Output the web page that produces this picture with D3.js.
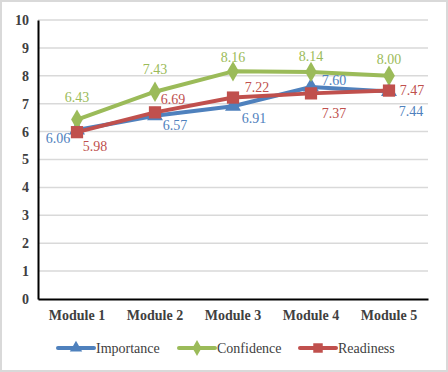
<!DOCTYPE html>
<html><head><meta charset="utf-8">
<script src="https://cdn.jsdelivr.net/npm/d3@7"></script>
<style>
html,body{margin:0;padding:0;background:#fff;}
svg{display:block;font-family:"Liberation Serif","Times New Roman",serif;}
</style></head>
<body>
<svg id="chart" width="448" height="372"></svg>
<script>
const categories = ["Module 1","Module 2","Module 3","Module 4","Module 5"];
const importance = [6.06,6.57,6.91,7.60,7.44];
const confidence = [6.43,7.43,8.16,8.14,8.00];
const readiness  = [5.98,6.69,7.22,7.37,7.47];
const yTicks = [0,1,2,3,4,5,6,7,8,9,10];
const seriesNames = ["Importance","Confidence","Readiness"];

// label offsets (layout only)
const labelOffsets = {
  Importance: [[-19,9],[20,10],[21,12],[23,-6],[22,20]],
  Confidence: [[0,-22],[0,-22],[0,-14],[0,-15],[0,-16]],
  Readiness:  [[18,14],[18,-13],[24,-10],[23,20],[23,0]]
};
const colors = {Importance:"#4f81bd", Confidence:"#9bbb59", Readiness:"#c0504d"};
const shapes = {Importance:d3.symbolTriangle, Confidence:d3.symbolDiamond, Readiness:d3.symbolSquare};
const sizes = {Importance:110, Confidence:120, Readiness:150};

const series = [
  {name:"Importance", values:importance},
  {name:"Confidence", values:confidence},
  {name:"Readiness", values:readiness}
];

const svg = d3.select("#chart");
// outer border
svg.append("rect").attr("x",1).attr("y",1).attr("width",446).attr("height",370)
  .attr("fill","#fff").attr("stroke","#d9d9d9").attr("stroke-width",2);

const mLeft=38, mRight=428, mTop=20, mBottom=299;
const x = d3.scaleBand().domain(categories).range([mLeft,mRight]);
const y = d3.scaleLinear().domain([0,10]).range([mBottom,mTop]);

// gridlines
svg.append("g").selectAll("line").data(yTicks.filter(t=>t>0)).join("line")
  .attr("x1",mLeft).attr("x2",mRight).attr("y1",d=>y(d)).attr("y2",d=>y(d))
  .attr("stroke","#d9d9d9").attr("stroke-width",1.5);

// y axis
const yAxis = svg.append("g").attr("transform",`translate(${mLeft},0)`)
  .call(d3.axisLeft(y).tickValues(yTicks).tickSize(0).tickPadding(9).tickFormat(d3.format("d")));
yAxis.select(".domain").attr("stroke","#000").attr("stroke-width",2);
yAxis.selectAll("text").attr("font-family","Liberation Serif, serif").attr("font-size",14)
  .attr("font-weight","bold").attr("fill","#404040");

// x axis
const xAxis = svg.append("g").attr("transform",`translate(0,${mBottom})`)
  .call(d3.axisBottom(x).tickSize(0).tickPadding(11));
xAxis.select(".domain").attr("stroke","#000").attr("stroke-width",2);
xAxis.selectAll("text").attr("font-family","Liberation Serif, serif").attr("font-size",14)
  .attr("font-weight","bold").attr("fill","#404040");

const cx = c => x(c) + x.bandwidth()/2;
const line = d3.line().x((d,i)=>cx(categories[i])).y(d=>y(d));

series.forEach(s=>{
  const g = svg.append("g");
  g.append("path").datum(s.values).attr("d",line).attr("fill","none")
    .attr("stroke",colors[s.name]).attr("stroke-width",4).attr("stroke-linejoin","round");
  g.selectAll("path.m").data(s.values).join("path").attr("class","m")
    .attr("transform",(d,i)=>`translate(${cx(categories[i])},${y(d)})`)
    .attr("d",d3.symbol().type(shapes[s.name]).size(sizes[s.name]))
    .attr("fill",colors[s.name]);
});
// labels
series.forEach(s=>{
  svg.append("g").selectAll("text").data(s.values).join("text")
    .attr("x",(d,i)=>cx(categories[i])+labelOffsets[s.name][i][0])
    .attr("y",(d,i)=>y(d)+labelOffsets[s.name][i][1])
    .attr("text-anchor","middle").attr("dominant-baseline","central")
    .attr("font-size",14).attr("fill",colors[s.name])
    .text(d=>d.toFixed(2));
});

// legend
const legendX = [58,179,300];
const legendY = 348;
seriesNames.forEach((n,i)=>{
  const g = svg.append("g").attr("transform",`translate(${legendX[i]},${legendY})`);
  g.append("line").attr("x1",0).attr("x2",36).attr("y1",0).attr("y2",0)
    .attr("stroke",colors[n]).attr("stroke-width",4).attr("stroke-linecap","round");
  g.append("path").attr("transform","translate(18,0)")
    .attr("d",d3.symbol().type(shapes[n]).size(sizes[n]*0.6)).attr("fill",colors[n]);
  g.append("text").attr("x",38).attr("y",0).attr("dominant-baseline","central")
    .attr("font-size",14).attr("fill","#404040").text(n);
});
</script>
</body></html>
